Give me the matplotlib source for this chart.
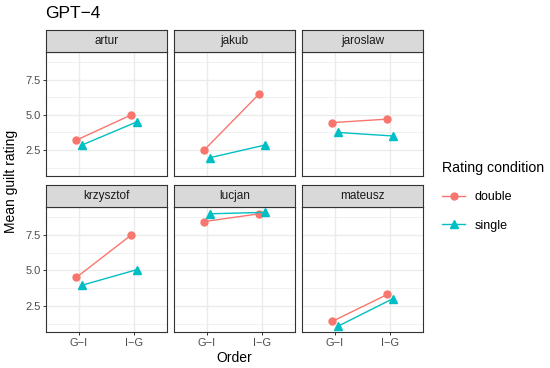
import matplotlib
matplotlib.use("Agg")
import matplotlib.pyplot as plt
from matplotlib.lines import Line2D

plt.rcParams['font.family'] = ['Liberation Sans', 'DejaVu Sans']

names = ['artur', 'jakub', 'jaroslaw', 'krzysztof', 'lucjan', 'mateusz']
orders = ['G\u2212I', 'I\u2212G']
double_gi = [3.2, 2.5, 4.45, 4.5, 8.45, 1.4]
double_ig = [5.0, 6.5, 4.7, 7.5, 9.0, 3.3]
single_gi = [2.85, 1.95, 3.75, 3.95, 9.0, 1.05]
single_ig = [4.5, 2.85, 3.5, 5.05, 9.1, 3.0]

red = '#F8766D'
teal = '#00BFC4'
W, H = 550, 368
fig = plt.figure(figsize=(W / 100, H / 100), dpi=100)

col_x = [46, 174, 302]
pw = 121
rows = [(29.5, 51.7, 176), (185, 206.7, 332)]  # strip top, panel top, panel bottom


def rect(x0, top, w, bottom):
    return [x0 / W, 1 - bottom / H, w / W, (bottom - top) / H]


for i, name in enumerate(names):
    r, c = divmod(i, 3)
    st, pt, pb = rows[r]
    ax = fig.add_axes(rect(col_x[c], pt, pw, pb))
    ax.set_xlim(0.4, 2.6)
    ax.set_ylim(0.65, 9.5)
    ax.set_xticks([1, 2])
    ax.set_yticks([2.5, 5.0, 7.5])
    ax.set_yticks([1.25, 3.75, 6.25, 8.75], minor=True)
    ax.grid(True, which='major', color='#EBEBEB', lw=1.0)
    ax.grid(True, which='minor', axis='y', color='#EBEBEB', lw=0.5)
    ax.set_axisbelow(True)
    ax.tick_params(which='minor', length=0)
    ax.tick_params(which='major', length=2.5, color='#333333', width=0.7,
                   labelsize=8, labelcolor='#4D4D4D', pad=1.5)
    for s in ax.spines.values():
        s.set_color('#333333')
        s.set_linewidth(0.8)
    if c == 0:
        ax.set_yticklabels(['2.5', '5.0', '7.5'])
    else:
        ax.tick_params(axis='y', length=0, labelleft=False)
    if r == 1:
        ax.set_xticklabels(orders)
    else:
        ax.tick_params(axis='x', length=0, labelbottom=False)

    ax.plot([1 - 0.05, 2 - 0.05], [double_gi[i], double_ig[i]], color=red,
            lw=1.0, marker='o', ms=5, zorder=3)
    ax.plot([1 + 0.05, 2 + 0.05], [single_gi[i], single_ig[i]], color=teal,
            lw=1.0, marker='^', ms=5.5, zorder=3)

    sax = fig.add_axes(rect(col_x[c], st, pw, pt))
    sax.set_facecolor('#D9D9D9')
    sax.set_xticks([])
    sax.set_yticks([])
    for s in sax.spines.values():
        s.set_color('#333333')
        s.set_linewidth(0.8)
    sax.text(0.5, 0.5, name, ha='center', va='center', fontsize=8.5,
             color='#1A1A1A', transform=sax.transAxes)

fig.text(45 / W, 1 - 13 / H, 'GPT\u22124', fontsize=12.5, ha='left', va='center')
fig.text(11 / W, 1 - 181 / H, 'Mean guilt rating', rotation=90, fontsize=10,
         ha='center', va='center')
fig.text(234 / W, 1 - 358 / H, 'Order', fontsize=10, ha='center', va='center')

handles = [Line2D([], [], color=red, marker='o', lw=1.0, ms=5),
           Line2D([], [], color=teal, marker='^', lw=1.0, ms=5.5)]
leg = fig.legend(handles, ['double', 'single'], title='Rating condition',
                 loc='upper left', bbox_to_anchor=(431 / W, 1 - 150 / H),
                 frameon=False, fontsize=9, title_fontsize=10.2,
                 handlelength=1.8, handletextpad=0.8, labelspacing=1.3)
leg._legend_box.align = 'left'

fig.savefig('out.png', dpi=100)
